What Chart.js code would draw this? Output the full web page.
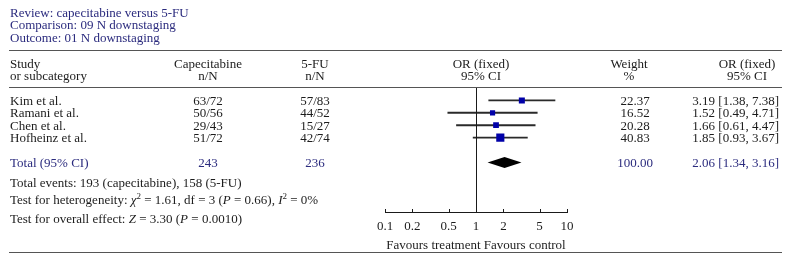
<!DOCTYPE html>
<html>
<head>
<meta charset="utf-8">
<script src="https://cdn.jsdelivr.net/npm/chart.js@4.4.1/dist/chart.umd.min.js"></script>
<style>
  html, body { margin: 0; padding: 0; background: #fff; }
  #wrap { position: relative; width: 790px; height: 261px; overflow: hidden;
          font-family: "Liberation Serif", "DejaVu Serif", serif; font-size: 13px; color: #1c1c1c; }
  #chart { position: absolute; left: 0; top: 0; }
  .t { position: absolute; white-space: nowrap; line-height: 13px; }
  .c { transform: translateX(-50%); }
  .r { transform: translateX(-100%); }
  .blue { color: #2b2b7e; }
  .rule { position: absolute; left: 9px; width: 773px; height: 0; border-top: 1px solid #555; }
  sup { font-size: 9px; line-height: 0; }
</style>
</head>
<body>
<div id="wrap">
  <canvas id="chart" width="790" height="261"></canvas>
</div>
<script>
// --- data ---
const studies = ["Kim et al.", "Ramani et al.", "Chen et al.", "Hofheinz et al."];
const capeEvents = [63, 50, 29, 51];
const capeTotal = [72, 56, 43, 72];
const fuEvents = [57, 44, 15, 42];
const fuTotal = [83, 52, 27, 74];
const weights = [22.37, 16.52, 20.28, 40.83];
const orEst = [3.19, 1.52, 1.66, 1.85];
const ciLow = [1.38, 0.49, 0.61, 0.93];
const ciHigh = [7.38, 4.71, 4.47, 3.67];
const pooledLabel = "Total (95% CI)";
const pooled = [2.06, 1.34, 3.16];       // OR, low, high
const pooledTotals = [243, 236];         // capecitabine, 5-FU
const pooledWeight = 100.00;
const tickValues = [0.1, 0.2, 0.5, 1, 2, 5, 10];
const nullValue = 1;
const rowLabels = ["", ...studies, "", pooledLabel, "", "", "", ""];

const FONT = "Liberation Serif";
const wrap = document.getElementById("wrap");

function put(html, x, y, align, cls) {
  const d = document.createElement("div");
  d.className = "t" + (align === "c" ? " c" : align === "r" ? " r" : "") + (cls ? " " + cls : "");
  d.style.left = x + "px";
  d.style.top = (y - 6.5) + "px";
  d.innerHTML = html;
  wrap.appendChild(d);
}
function rule(y) {
  const d = document.createElement("div");
  d.className = "rule";
  d.style.top = y + "px";
  wrap.appendChild(d);
}

// --- plugins: null line, upward tick marks, pooled diamond ---
const forestPlugin = {
  id: "forest",
  afterDatasetsDraw(chart) {
    const { ctx, chartArea } = chart;
    const x = chart.scales.x, y = chart.scales.y;
    ctx.save();
    ctx.strokeStyle = "#1a1a1a";
    ctx.lineWidth = 1;
    // line of no effect
    const nx = Math.round(x.getPixelForValue(nullValue)) + 0.5;
    ctx.beginPath();
    ctx.moveTo(nx, chartArea.top);
    ctx.lineTo(nx, chartArea.bottom);
    ctx.stroke();
    // tick marks pointing up
    tickValues.forEach(v => {
      const tx = Math.round(x.getPixelForValue(v)) + 0.5;
      ctx.beginPath();
      ctx.moveTo(tx, chartArea.bottom - 3);
      ctx.lineTo(tx, chartArea.bottom);
      ctx.stroke();
    });
    // pooled diamond
    const dy = y.getPixelForValue(rowLabels.indexOf(pooledLabel));
    ctx.fillStyle = "#000";
    ctx.beginPath();
    ctx.moveTo(x.getPixelForValue(pooled[1]), dy);
    ctx.lineTo(x.getPixelForValue(pooled[0]), dy - 5.5);
    ctx.lineTo(x.getPixelForValue(pooled[2]), dy);
    ctx.lineTo(x.getPixelForValue(pooled[0]), dy + 5.5);
    ctx.closePath();
    ctx.fill();
    ctx.restore();
  }
};

const chart = new Chart(document.getElementById("chart"), {
  type: "bar",
  data: {
    labels: rowLabels,
    datasets: [
      {
        type: "scatter",
        data: studies.map((s, i) => ({ x: orEst[i], y: s })),
        pointStyle: "rect",
        pointRadius: weights.map(w => 0.9 * Math.sqrt(w)),
        backgroundColor: "#0000a8",
        borderColor: "#0000a8",
        borderWidth: 0,
        order: 0
      },
      {
        type: "bar",
        indexAxis: "y",
        data: studies.map((s, i) => ({ y: s, x: [ciLow[i], ciHigh[i]] })),
        backgroundColor: "#2a2a2a",
        borderWidth: 0,
        barThickness: 1.2,
        order: 1
      }
    ]
  },
  options: {
    indexAxis: "y",
    responsive: false,
    animation: false,
    devicePixelRatio: 1,
    layout: { padding: { left: 385, right: 223, top: 88, bottom: 0 } },
    plugins: { legend: { display: false }, tooltip: { enabled: false } },
    scales: {
      x: {
        type: "logarithmic",
        position: "bottom",
        min: 0.1,
        max: 10,
        afterBuildTicks: (s) => { s.ticks = tickValues.map(v => ({ value: v })); },
        afterFit: (s) => { s.height = 49; },
        grid: { display: false, drawTicks: false },
        border: { display: true, color: "#1a1a1a", width: 1 },
        ticks: {
          autoSkip: false, maxRotation: 0, padding: 7,
          color: "#1c1c1c",
          font: { family: FONT, size: 13 },
          callback: (v) => String(v)
        },
        title: {
          display: true,
          text: "Favours treatment Favours control",
          color: "#1c1c1c",
          font: { family: FONT, size: 13 },
          padding: { top: 0, bottom: 8 }
        }
      },
      y: {
        type: "category",
        labels: rowLabels,
        offset: false,
        display: false
      }
    }
  },
  plugins: [forestPlugin]
});

// --- table text ---
put("Review: capecitabine versus 5-FU", 10, 12, "l", "blue");
put("Comparison: 09 N downstaging", 10, 24.5, "l", "blue");
put("Outcome: 01 N downstaging", 10, 37, "l", "blue");
rule(50);
put("Study", 10, 63);
put("or subcategory", 10, 75.5);
put("Capecitabine", 208, 63, "c");
put("n/N", 208, 75.5, "c");
put("5-FU", 315, 63, "c");
put("n/N", 315, 75.5, "c");
put("OR (fixed)", 481, 63, "c");
put("95% CI", 481, 75.5, "c");
put("Weight", 629, 63, "c");
put("%", 629, 75.5, "c");
put("OR (fixed)", 747, 63, "c");
put("95% CI", 747, 75.5, "c");
rule(87);

const ys = chart.scales.y;
studies.forEach((s, i) => {
  const yy = ys.getPixelForValue(rowLabels.indexOf(s));
  put(s, 10, yy);
  put(capeEvents[i] + "/" + capeTotal[i], 208, yy, "c");
  put(fuEvents[i] + "/" + fuTotal[i], 315, yy, "c");
  put(weights[i].toFixed(2), 635, yy, "c");
  put(orEst[i].toFixed(2) + " [" + ciLow[i].toFixed(2) + ", " + ciHigh[i].toFixed(2) + "]", 779, yy, "r");
});
const ty = ys.getPixelForValue(rowLabels.indexOf(pooledLabel));
put(pooledLabel, 10, ty, "l", "blue");
put(String(pooledTotals[0]), 208, ty, "c", "blue");
put(String(pooledTotals[1]), 315, ty, "c", "blue");
put(pooledWeight.toFixed(2), 635, ty, "c", "blue");
put(pooled[0].toFixed(2) + " [" + pooled[1].toFixed(2) + ", " + pooled[2].toFixed(2) + "]", 779, ty, "r", "blue");

put("Total events: 193 (capecitabine), 158 (5-FU)", 10, 182);
put("Test for heterogeneity: <i>χ</i><sup>2</sup> = 1.61, df = 3 (<i>P</i> = 0.66), <i>I</i><sup>2</sup> = 0%", 10, 199);
put("Test for overall effect: <i>Z</i> = 3.30 (<i>P</i> = 0.0010)", 10, 218);
rule(252);
</script>
</body>
</html>
